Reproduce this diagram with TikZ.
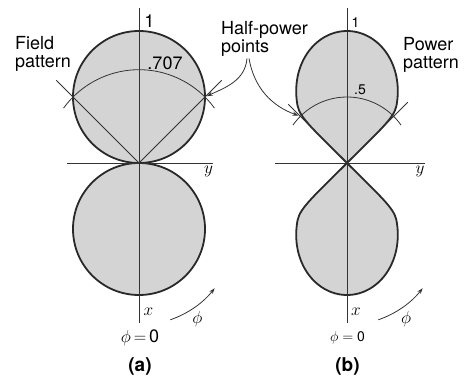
\documentclass[tikz,border=0pt]{standalone}
\usepackage{fontspec}
\setmainfont{TeX Gyre Heros}
\usetikzlibrary{arrows.meta}

\definecolor{lobegray}{gray}{0.83}
\definecolor{rimgray}{gray}{0.16}
\definecolor{axisgray}{gray}{0.2}

\tikzset{
  lobe/.style={fill=lobegray, draw=rimgray, line width=1.8pt, line join=round},
  axisline/.style={draw=axisgray, line width=0.9pt},
  guide/.style={draw=axisgray, line width=0.8pt},
  pointer/.style={guide, -{Stealth[length=6pt,width=4pt]}, shorten >=2pt},
  lbl/.style={font=\fontsize{18}{18}\selectfont, inner sep=0pt},
  smalllbl/.style={font=\fontsize{14}{14}\selectfont, inner sep=0pt},
  caplbl/.style={font=\fontsize{19}{19}\selectfont\bfseries, inner sep=0pt}
}

\begin{document}
\begin{tikzpicture}[x=1pt,y=1pt]
  \useasboundingbox (0,0) rectangle (465,375);

  % (a) field pattern
  \begin{scope}[shift={(139,212)}]
    \filldraw[lobe] (0,66) circle[radius=66];
    \filldraw[lobe] (0,-66) circle[radius=66];
    \draw[axisline] (0,155) -- (0,-160);
    \draw[axisline] (-72,0) -- (74,0);
    \draw[guide] (135:117) -- (0,0) -- (45:117);
    \draw[guide] (36:93.3) arc[start angle=36, end angle=144, radius=93.3];
    \coordinate (hpaL) at (135:93.3);
    \coordinate (hpaR) at (45:93.3);
    \node[lbl] (oneA) at (10.5,142) {1};
    \node[lbl] (levA) at (26,100) {.707};
    \node[lbl] (yA) at (69.5,-8) {$y$};
    \node[lbl] (xA) at (9.5,-149) {$x$};
    \node[lbl] (zeroA) at (1,-175) {$\phi\,{=}\,$0};
    \node[caplbl] (capA) at (1,-203) {(a)};
    % rotation arrow
    \coordinate (phiA) at (31.3,-156.8);
    \draw[guide, -{Stealth[length=6pt,width=4pt]}] (phiA) arc[start angle=-71, end angle=-38, radius=96];
    \node[lbl] (phiAl) at (58.5,-156.5) {$\phi$};
  \end{scope}

  % (b) power pattern
  \begin{scope}[shift={(347,212)}]
    \filldraw[lobe] (0,0) .. controls (-31.8,31.8) and (-47,45) .. (-49.3,56.8)
      -- plot[domain=131:49, samples=120] ({132*sin(\x)*sin(\x)*cos(\x)}, {132*sin(\x)*sin(\x)*sin(\x)})
      .. controls (47,45) and (31.8,31.8) .. (0,0) -- cycle;
    \filldraw[lobe] (0,0) .. controls (-31.8,-31.8) and (-47,-45) .. (-49.3,-56.8)
      -- plot[domain=229:311, samples=120] ({132*sin(\x)*sin(\x)*cos(\x)}, {132*sin(\x)*sin(\x)*sin(\x)})
      .. controls (47,-45) and (31.8,-31.8) .. (0,0) -- cycle;
    \draw[axisline] (0,155) -- (0,-160);
    \draw[axisline] (-72,0) -- (78,0);
    \draw[guide] (135:83) -- (0,0) -- (45:86);
    \draw[guide] (35:66) arc[start angle=35, end angle=145, radius=66];
    \coordinate (hpbL) at (135:66);
    \coordinate (hpbR) at (45:66);
    \node[smalllbl] (oneB) at (8.5,140.5) {1};
    \node[smalllbl] (levB) at (13,73) {.5};
    \node[lbl] (yB) at (73,-8) {$y$};
    \node[lbl] (xB) at (9,-149) {$x$};
    \node[smalllbl] (zeroB) at (0.5,-175) {$\phi = $ 0};
    \node[caplbl] (capB) at (0.5,-203) {(b)};
    % rotation arrow
    \coordinate (phiB) at (31.3,-156.8);
    \draw[guide, -{Stealth[length=6pt,width=4pt]}] (phiB) arc[start angle=-71, end angle=-38, radius=96];
    \node[lbl] (phiBl) at (59,-156.5) {$\phi$};
  \end{scope}

  % captions of the patterns
  \node[lbl, align=left, anchor=north west] (field) at (15,339) {Field\\pattern};
  \node[lbl, align=left, anchor=north west] (power) at (403,338) {Power\\pattern};
  \node[lbl, align=left, anchor=north west] (hp) at (221,354) {Half-power\\points};

  % arrows to the half-power points
  \draw[pointer] ([xshift=26pt,yshift=-2pt]hp.south west) to[out=-95, in=25] (hpaR);
  \draw[pointer] ([xshift=28pt,yshift=-2pt]hp.south west) to[out=-80, in=160] (hpbL);
\end{tikzpicture}
\end{document}
